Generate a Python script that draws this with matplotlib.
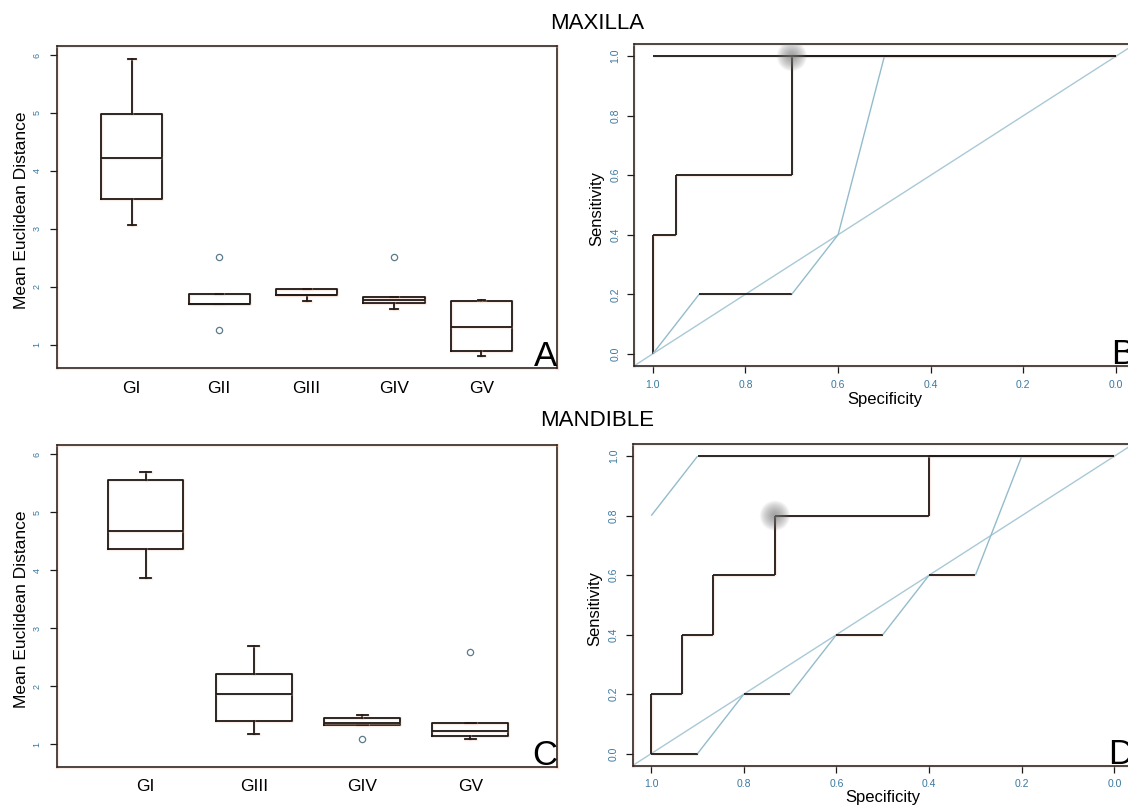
import matplotlib
matplotlib.use('Agg')
import matplotlib.pyplot as plt
import matplotlib.patheffects as pe
import numpy as np

plt.rcParams['font.family'] = ['Liberation Sans', 'DejaVu Sans']

# ---- box plot summaries (mean Euclidean distance) ----
max_groups = ['GI', 'GII', 'GIII', 'GIV', 'GV']
max_whislo = [3.07, 1.71, 1.76, 1.62, 0.81]
max_q1 = [3.52, 1.71, 1.86, 1.72, 0.90]
max_med = [4.22, 1.71, 1.86, 1.78, 1.30]
max_q3 = [4.98, 1.87, 1.97, 1.82, 1.75]
max_whishi = [5.93, 1.87, 1.97, 1.82, 1.77]
max_fliers = [[], [2.51, 1.26], [], [2.51], []]

man_groups = ['GI', 'GIII', 'GIV', 'GV']
man_whislo = [3.87, 1.18, 1.33, 1.10]
man_q1 = [4.36, 1.40, 1.33, 1.14]
man_med = [4.68, 1.86, 1.37, 1.23]
man_q3 = [5.55, 2.22, 1.46, 1.36]
man_whishi = [5.69, 2.69, 1.50, 1.36]
man_fliers = [[], [], [1.10], [2.60]]

# ---- ROC curves (specificity, sensitivity) ----
max_roc1_spec = [1.0, 1.0, 0.95, 0.95, 0.70, 0.70, 0.0]
max_roc1_sens = [0.0, 0.4, 0.4, 0.6, 0.6, 1.0, 1.0]
max_roc2_spec = [1.0, 0.90, 0.70, 0.60, 0.50, 0.0]
max_roc2_sens = [0.0, 0.2, 0.2, 0.4, 1.0, 1.0]
max_roc3_spec = [1.0, 0.0]
max_roc3_sens = [1.0, 1.0]
max_best = (0.70, 1.0)

man_roc1_spec = [1.0, 1.0, 0.933, 0.933, 0.867, 0.867, 0.733, 0.733, 0.40, 0.40, 0.0]
man_roc1_sens = [0.0, 0.2, 0.2, 0.4, 0.4, 0.6, 0.6, 0.8, 0.8, 1.0, 1.0]
man_roc2_spec = [1.0, 0.9, 0.8, 0.7, 0.6, 0.5, 0.4, 0.3, 0.2, 0.0]
man_roc2_sens = [0.0, 0.0, 0.2, 0.2, 0.4, 0.4, 0.6, 0.6, 1.0, 1.0]
man_roc3_spec = [1.0, 0.9, 0.0]
man_roc3_sens = [0.8, 1.0, 1.0]
man_best = (0.733, 0.8)

roc_ticks = [1.0, 0.8, 0.6, 0.4, 0.2, 0.0]

DARK = '#1c1816'
LIGHT = '#93bccb'
TICKCOL = '#3a78a0'
halo = [pe.Stroke(linewidth=2.3, foreground='#f2c2aa', alpha=0.3), pe.Normal()]

W, H = 1128, 810
fig = plt.figure(figsize=(W / 100, H / 100), dpi=100)


def px_axes(left, top, right, bottom):
    return fig.add_axes([left / W, 1 - bottom / H, (right - left) / W, (bottom - top) / H])


def style_frame(ax):
    for s in ax.spines.values():
        s.set_color(DARK)
        s.set_linewidth(1.1)
        s.set_path_effects(halo)


def box_panel(ax, groups, whislo, q1, med, q3, whishi, fliers, xlim, capw, letter):
    stats = []
    for i in range(len(groups)):
        stats.append(dict(label=groups[i], whislo=whislo[i], q1=q1[i], med=med[i],
                          q3=q3[i], whishi=whishi[i], fliers=fliers[i]))
    pos = np.arange(1, len(groups) + 1)
    lp = dict(color=DARK, linewidth=1.3, path_effects=halo)
    ax.bxp(stats, positions=pos, widths=0.7, capwidths=capw,
           boxprops=lp, medianprops=lp, whiskerprops=lp, capprops=lp,
           flierprops=dict(marker='o', markerfacecolor='none', markeredgecolor='#5d7b8c',
                           markersize=4.5, markeredgewidth=0.9))
    ax.set_xlim(*xlim)
    ax.set_xticks(pos)
    ax.set_xticklabels(groups, fontsize=12.5)
    ax.tick_params(axis='x', length=0, pad=9)
    ax.set_yticks([1, 2, 3, 4, 5, 6])
    ax.set_yticklabels(['1', '2', '3', '4', '5', '6'], rotation=90, va='center',
                       fontsize=6.5, color=TICKCOL)
    ax.tick_params(axis='y', length=5, width=0.9, color=DARK, pad=6)
    ax.set_ylabel('Mean Euclidean Distance', fontsize=12.5)
    ax.yaxis.set_label_coords(-0.056, 0.49)
    style_frame(ax)
    ax.text(1.0, 0.006, letter, transform=ax.transAxes, ha='right', va='baseline', fontsize=25)


def draw_curve(ax, spec, sens):
    for i in range(len(spec) - 1):
        diag = spec[i] != spec[i + 1] and sens[i] != sens[i + 1]
        ax.plot(spec[i:i + 2], sens[i:i + 2], color=LIGHT if diag else DARK,
                linewidth=1.0 if diag else 1.3, solid_capstyle='butt',
                path_effects=None if diag else halo)


def roc_panel(ax, curves, best, letter, xlab_y):
    ax.axline((1, 0), (0, 1), color='#a9c9d6', linewidth=1.0)
    for spec, sens in curves:
        draw_curve(ax, spec, sens)
    # soft grey spot on the chosen threshold
    for r in np.linspace(15, 2, 14):
        ax.scatter([best[0]], [best[1]], s=(2 * r * 0.72) ** 2, color='#7a7a7a',
                   alpha=0.07, edgecolors='none', zorder=5)
    ax.set_xlim(1.04, -0.04)
    ax.set_ylim(-0.04, 1.04)
    ax.set_xticks(roc_ticks)
    ax.set_xticklabels([f'{t:.1f}' for t in roc_ticks], fontsize=7.5, color=TICKCOL)
    ax.set_yticks(roc_ticks)
    ax.set_yticklabels([f'{t:.1f}' for t in roc_ticks], rotation=90, va='center',
                       fontsize=7.5, color=TICKCOL)
    ax.tick_params(length=5, width=0.9, color=DARK, pad=5)
    ax.set_xlabel('Specificity', fontsize=12)
    ax.xaxis.set_label_coords(0.5, xlab_y)
    ax.set_ylabel('Sensitivity', fontsize=12)
    ax.yaxis.set_label_coords(-0.06, 0.49)
    style_frame(ax)
    ax.text(1.0, 0.006, letter, transform=ax.transAxes, ha='right', va='baseline', fontsize=25)


axA = px_axes(57, 46, 556.7, 368)
axA.set_ylim(0.60, 6.155)
box_panel(axA, max_groups, max_whislo, max_q1, max_med, max_q3, max_whishi, max_fliers,
          (0.146, 5.86), 0.09, 'A')

axC = px_axes(57, 445, 557, 766.7)
axC.set_ylim(0.614, 6.16)
box_panel(axC, man_groups, man_whislo, man_q1, man_med, man_q3, man_whishi, man_fliers,
          (0.182, 4.80), 0.1, 'C')

axB = px_axes(634.3, 44.3, 1134.5, 365.7)
roc_panel(axB, [(max_roc1_spec, max_roc1_sens), (max_roc2_spec, max_roc2_sens),
                (max_roc3_spec, max_roc3_sens)], max_best, 'B', -0.083)

axD = px_axes(632.7, 444.3, 1132.9, 765.5)
roc_panel(axD, [(man_roc1_spec, man_roc1_sens), (man_roc2_spec, man_roc2_sens),
                (man_roc3_spec, man_roc3_sens)], man_best, 'D', -0.075)

fig.text(597 / W, 1 - 23.5 / H, 'MAXILLA', ha='center', va='center', fontsize=16)
fig.text(597 / W, 1 - 420 / H, 'MANDIBLE', ha='center', va='center', fontsize=16)

fig.savefig('out.png', dpi=100)
